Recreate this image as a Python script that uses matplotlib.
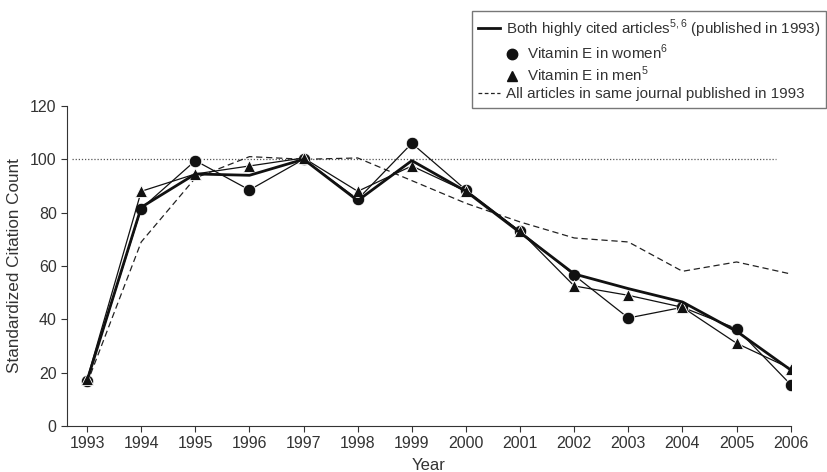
import matplotlib
matplotlib.use("Agg")
import numpy as np
import matplotlib.pyplot as plt
from matplotlib.lines import Line2D
from matplotlib.legend_handler import HandlerLine2D

years = list(range(1993, 2007))
both = [17, 82, 94.5, 94, 100, 84.5, 99.5, 88, 72.5, 57, 51.5, 46.5, 35.5, 21]
women = [17, 81.5, 99.5, 88.5, 100, 85, 106, 88.5, 73, 56.5, 40.5, 44.5, 36.5, 15.5]
men = [17.5, 88, 94.5, 97.5, 100.5, 88, 97.5, 88, 73, 52.5, 49, 44.5, 31, 21.5]
journal = [16, 69, 93, 101, 100, 100.5, 92, 83.5, 76.5, 70.5, 69, 58, 61.5, 57]
yticks = [0, 20, 40, 60, 80, 100, 120]

plt.rcParams['font.family'] = ['Liberation Sans', 'DejaVu Sans']
plt.rcParams['mathtext.fontset'] = 'custom'
plt.rcParams['mathtext.rm'] = 'Liberation Sans'

GREY = '#333333'


class IndentHandler(HandlerLine2D):
    # pushes the marker to the right, like the indented rows in the original
    def __init__(self, shift, **kw):
        super().__init__(**kw)
        self.shift = shift

    def create_artists(self, legend, orig_handle, xdescent, ydescent,
                       width, height, fontsize, trans):
        arts = super().create_artists(legend, orig_handle, xdescent, ydescent,
                                      width, height, fontsize, trans)
        for a in arts:
            a.set_xdata(np.asarray(a.get_xdata()) + self.shift)
        return arts


fig = plt.figure(figsize=(8.28, 4.72), dpi=100)
ax = fig.add_axes([0.081, 0.0975, 0.874, 0.678])

ax.hlines(100, 1992.72, 2005.72, colors='#555555', linestyles=(0, (1, 1.5)), linewidth=0.9)
ax.plot(years, journal, color='#222222', linestyle=(0, (5, 3)), linewidth=0.9)
ax.plot(years, women, color='#111111', linewidth=0.9, marker='o', markersize=9,
        markeredgecolor='white', markeredgewidth=0.6, zorder=3)
ax.plot(years, men, color='#111111', linewidth=0.9, marker='^', markersize=9,
        markeredgecolor='white', markeredgewidth=0.6, zorder=4)
ax.plot(years, both, color='#111111', linewidth=2.0, zorder=5)

ax.set_xlim(1992.63, 2006)
ax.set_ylim(0, 120)
ax.set_xticks(years)
ax.set_yticks(yticks)
ax.tick_params(labelsize=11.5, length=4, color=GREY, labelcolor=GREY)
for s in ['top', 'right']:
    ax.spines[s].set_visible(False)
for s in ['left', 'bottom']:
    ax.spines[s].set_color(GREY)
ax.set_xlabel('Year', fontsize=12, color=GREY, labelpad=5)
ax.set_ylabel('Standardized Citation Count', fontsize=12.3, color=GREY, labelpad=6)

h_both = Line2D([], [], color='#111111', linewidth=2.0)
h_women = Line2D([], [], color='#111111', linestyle='none', marker='o', markersize=7.5)
h_men = Line2D([], [], color='#111111', linestyle='none', marker='^', markersize=7.5)
h_journal = Line2D([], [], color='#222222', linestyle=(0, (3, 2)), linewidth=0.9)
labels = [
    'Both highly cited articles$^{5,6}$ (published in 1993)',
    '     Vitamin E in women$^{6}$',
    '     Vitamin E in men$^{5}$',
    'All articles in same journal published in 1993',
]
leg = fig.legend([h_both, h_women, h_men, h_journal], labels,
                 loc='upper right', bbox_to_anchor=(1.0, 0.979),
                 frameon=True, fancybox=False, handlelength=1.45,
                 handletextpad=0.42, labelspacing=0.2, borderpad=0.4,
                 borderaxespad=0.1,
                 handler_map={h_women: IndentHandler(17), h_men: IndentHandler(17)},
                 prop={'family': ['Liberation Sans', 'DejaVu Sans'], 'size': 10.9})
leg.get_frame().set_edgecolor('#555555')
leg.get_frame().set_linewidth(1.0)
for t in leg.get_texts():
    t.set_color(GREY)

fig.savefig('out.png', dpi=100)
